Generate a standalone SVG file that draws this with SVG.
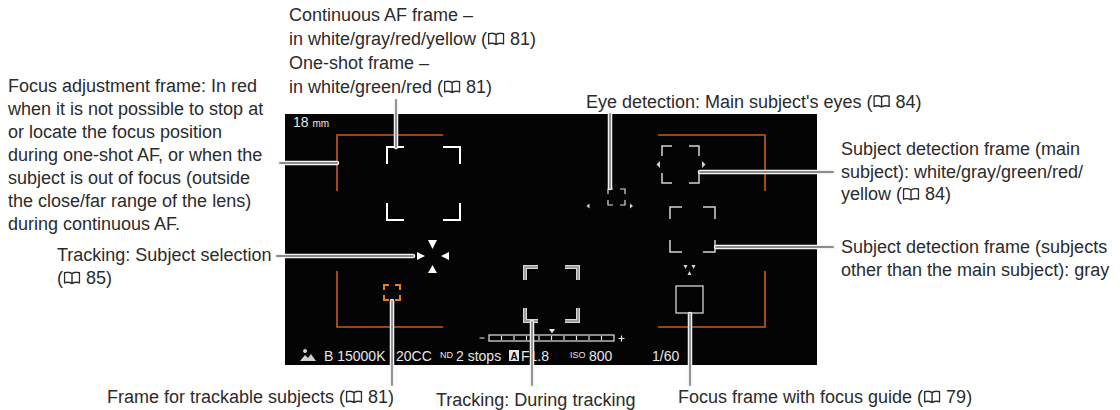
<svg xmlns="http://www.w3.org/2000/svg" xmlns:xlink="http://www.w3.org/1999/xlink" width="1120" height="410" viewBox="0 0 1120 410">
<style>
.lbl{font-family:'Liberation Sans',Arial,sans-serif;font-size:18px;fill:#2b2b2b}
.st{font-family:'Liberation Sans',Arial,sans-serif;font-size:14px;fill:#e6e6e6}
.sm{font-size:9px}
.ldo{stroke:#f2f2f2;stroke-width:4.5;fill:none;stroke-linecap:round}
.ldi{stroke:#8c8c8c;stroke-width:1.8;fill:none;stroke-linecap:round}
.or{stroke:#c85a1e;stroke-width:1.6;fill:none}
.wf{stroke:#fff;stroke-width:2;fill:none}
.gf{stroke:#d4d4d4;stroke-width:1.5;fill:none}
.tf{stroke:#d8d8d8;stroke-width:4;fill:none}
.tfi{stroke:#8a8a8a;stroke-width:1.4;fill:none}
.tri{fill:#fff}
.gtri{fill:#d4d4d4}
</style>
<defs>
<symbol id="book" viewBox="0 0 17 13">
<path d="M8.5,2.4 C6.4,1 3.4,0.8 1,1.4 L1,11.4 C3.4,10.8 6.4,11 8.5,12.3 C10.6,11 13.6,10.8 16,11.4 L16,1.4 C13.6,0.8 10.6,1 8.5,2.4 Z M8.5,2.4 V12.3" fill="none" stroke="#2b2b2b" stroke-width="1.4"/>
</symbol>
</defs>
<rect width="1120" height="410" fill="#fff"/>

<g id="screen">
<rect x="285" y="114" width="532" height="251" fill="#050404"/>
<text class="st" x="293" y="127">18 <tspan font-size="10">mm</tspan></text>
<path d="M300,361 l5,-6 l3,3 l3,-4 l5,7 z M305,353 a2,2 0 1 1 0.1,0" fill="#cfcfcf"/>
<text class="st" x="324" y="361">B 15000K</text>
<text class="st" x="396" y="361">20CC</text>
<text class="st" x="440" y="357.5"><tspan class="sm">ND</tspan></text>
<text class="st" x="456" y="361">2 stops</text>
<rect x="509" y="350" width="10" height="11" fill="#e6e6e6"/>
<text x="514" y="359.5" font-family="'Liberation Sans',Arial,sans-serif" font-size="10" font-weight="bold" fill="#050404" text-anchor="middle">A</text>
<text class="st" x="521" y="361">F1.8</text>
<text class="st" x="570" y="357.5"><tspan class="sm">ISO</tspan></text>
<text class="st" x="589" y="361">800</text>
<text class="st" x="652" y="361">1/60</text>
<g stroke="#e6e6e6" fill="none" stroke-width="1.2">
<path d="M479.5,338 H484.5 M618.5,338.5 H624.5 M621.5,335.5 V341.5"/>
<rect x="489" y="335" width="125" height="6"/>
<path d="M501.5,336 V340 M514,336 V340 M526.5,336 V340 M539,336 V340 M551.5,336 V340 M564,336 V340 M576.5,336 V340 M589,336 V340 M601.5,336 V340"/>
</g>
<polygon points="549,329 555,329 552,333.5" fill="#e6e6e6"/>
</g>

<g id="focus-adjustment-frame">
<path class="or" d="M337,191 V135 H443 M337,271 V327 H443 M658,135 H765 V191 M765,271 V327 H658"/>
</g>

<g id="continuous-af-frame">
<path class="wf" d="M387,164 V147 H404 M443,147 H460 V164 M387,203 V220 H404 M443,220 H460 V203"/>
</g>

<g id="tracking-selection">
<polygon class="tri" points="428,240 437,240 432.5,249"/>
<polygon class="tri" points="428,273 437,273 432.5,265"/>
<polygon class="tri" points="417,252 417,260 425,256"/>
<polygon class="tri" points="449,252 449,260 441,256"/>
</g>

<g id="trackable-frame">
<path d="M384,290 V285 H389 M395,285 H400 V290 M384,295 V300 H389 M395,300 H400 V295" stroke="#e07f27" stroke-width="2" fill="none"/>
</g>

<g id="tracking-frame">
<path class="tf" d="M525,280 V267 H538 M565,267 H578 V280 M525,308 V321 H538 M565,321 H578 V308"/>
<path class="tfi" d="M525,280 V267 H538 M565,267 H578 V280 M525,308 V321 H538 M565,321 H578 V308"/>
</g>

<g id="eye-frame">
<path d="M608,194 V189 H613 M620,189 H625 V194 M608,200 V205 H613 M620,205 H625 V200" stroke="#dddddd" stroke-width="1.2" fill="none"/>
<polygon class="gtri" points="589.5,203.5 589.5,208.5 586.5,206"/>
<polygon class="gtri" points="630,203.5 630,208.5 633,206"/>
</g>

<g id="main-subject-frame">
<path class="gf" d="M662,156 V146 H672 M689,146 H699 V156 M662,173 V183 H672 M689,183 H699 V173"/>
<polygon class="gtri" points="660,161 660,168 656.5,164.5"/>
<polygon class="gtri" points="702,161 702,168 705.5,164.5"/>
</g>

<g id="other-subject-frame">
<path class="gf" d="M670,219 V207 H682 M703,207 H715 V219 M670,240 V252 H682 M703,252 H715 V240"/>
</g>

<g id="focus-guide-frame">
<rect x="676" y="286" width="27" height="27" fill="none" stroke="#d4d4d4" stroke-width="1.3"/>
<polygon class="gtri" points="683.5,265 687.5,265 685.5,269"/>
<polygon class="gtri" points="691.5,265 695.5,265 693.5,269"/>
<polygon class="gtri" points="687.5,275 691.5,275 689.5,271"/>
</g>

<g id="connectors">
<path class="ldo" d="M280,163 H337 M396,100 V147 M277,256 H413 M392,301 V385 M532,322 V385 M610,114 V188 M700,172 H833 M716,247 H833 M690,314 V385"/>
<path class="ldi" d="M280,163 H337 M396,100 V147 M277,256 H413 M392,301 V385 M532,322 V385 M610,114 V188 M700,172 H833 M716,247 H833 M690,314 V385"/>
</g>

<g id="label-continuous-af">
<text class="lbl" x="289" y="21">Continuous AF frame –</text>
<text class="lbl" x="289" y="45">in white/gray/red/yellow (<tspan dx="18"> 81)</tspan></text>
<use xlink:href="#book" x="487.6" y="32.3" width="17" height="13"/>
<text class="lbl" x="289" y="69">One-shot frame –</text>
<text class="lbl" x="289" y="93">in white/green/red (<tspan dx="18"> 81)</tspan></text>
<use xlink:href="#book" x="443.6" y="80.3" width="17" height="13"/>
</g>

<g id="label-focus-adjustment">
<text class="lbl" x="8" y="92">Focus adjustment frame: In red</text>
<text class="lbl" x="8" y="115">when it is not possible to stop at</text>
<text class="lbl" x="8" y="138">or locate the focus position</text>
<text class="lbl" x="8" y="161">during one-shot AF, or when the</text>
<text class="lbl" x="8" y="184">subject is out of focus (outside</text>
<text class="lbl" x="8" y="207">the close/far range of the lens)</text>
<text class="lbl" x="8" y="230">during continuous AF.</text>
</g>

<g id="label-eye">
<text class="lbl" x="586" y="107.5">Eye detection: Main subject's eyes (<tspan dx="18"> 84)</tspan></text>
<use xlink:href="#book" x="873.1" y="94.8" width="17" height="13"/>
</g>

<g id="label-main-subject">
<text class="lbl" x="841" y="155">Subject detection frame (main</text>
<text class="lbl" x="841" y="177.7">subject): white/gray/green/red/</text>
<text class="lbl" x="841" y="200.3">yellow (<tspan dx="18"> 84)</tspan></text>
<use xlink:href="#book" x="902.5" y="187.6" width="17" height="13"/>
</g>

<g id="label-other-subjects">
<text class="lbl" x="841" y="253">Subject detection frame (subjects</text>
<text class="lbl" x="841" y="275.7">other than the main subject): gray</text>
</g>

<g id="label-tracking-selection">
<text class="lbl" x="57" y="261">Tracking: Subject selection</text>
<text class="lbl" x="57" y="284">(<tspan dx="18"> 85)</tspan></text>
<use xlink:href="#book" x="63.5" y="271.3" width="17" height="13"/>
</g>

<g id="label-trackable">
<text class="lbl" x="107" y="403">Frame for trackable subjects (<tspan dx="18"> 81)</tspan></text>
<use xlink:href="#book" x="345.5" y="390.3" width="17" height="13"/>
</g>

<g id="label-tracking-during">
<text class="lbl" x="436" y="406">Tracking: During tracking</text>
</g>

<g id="label-focus-guide">
<text class="lbl" x="678" y="403">Focus frame with focus guide (<tspan dx="18"> 79)</tspan></text>
<use xlink:href="#book" x="923.6" y="390.3" width="17" height="13"/>
</g>
</svg>
